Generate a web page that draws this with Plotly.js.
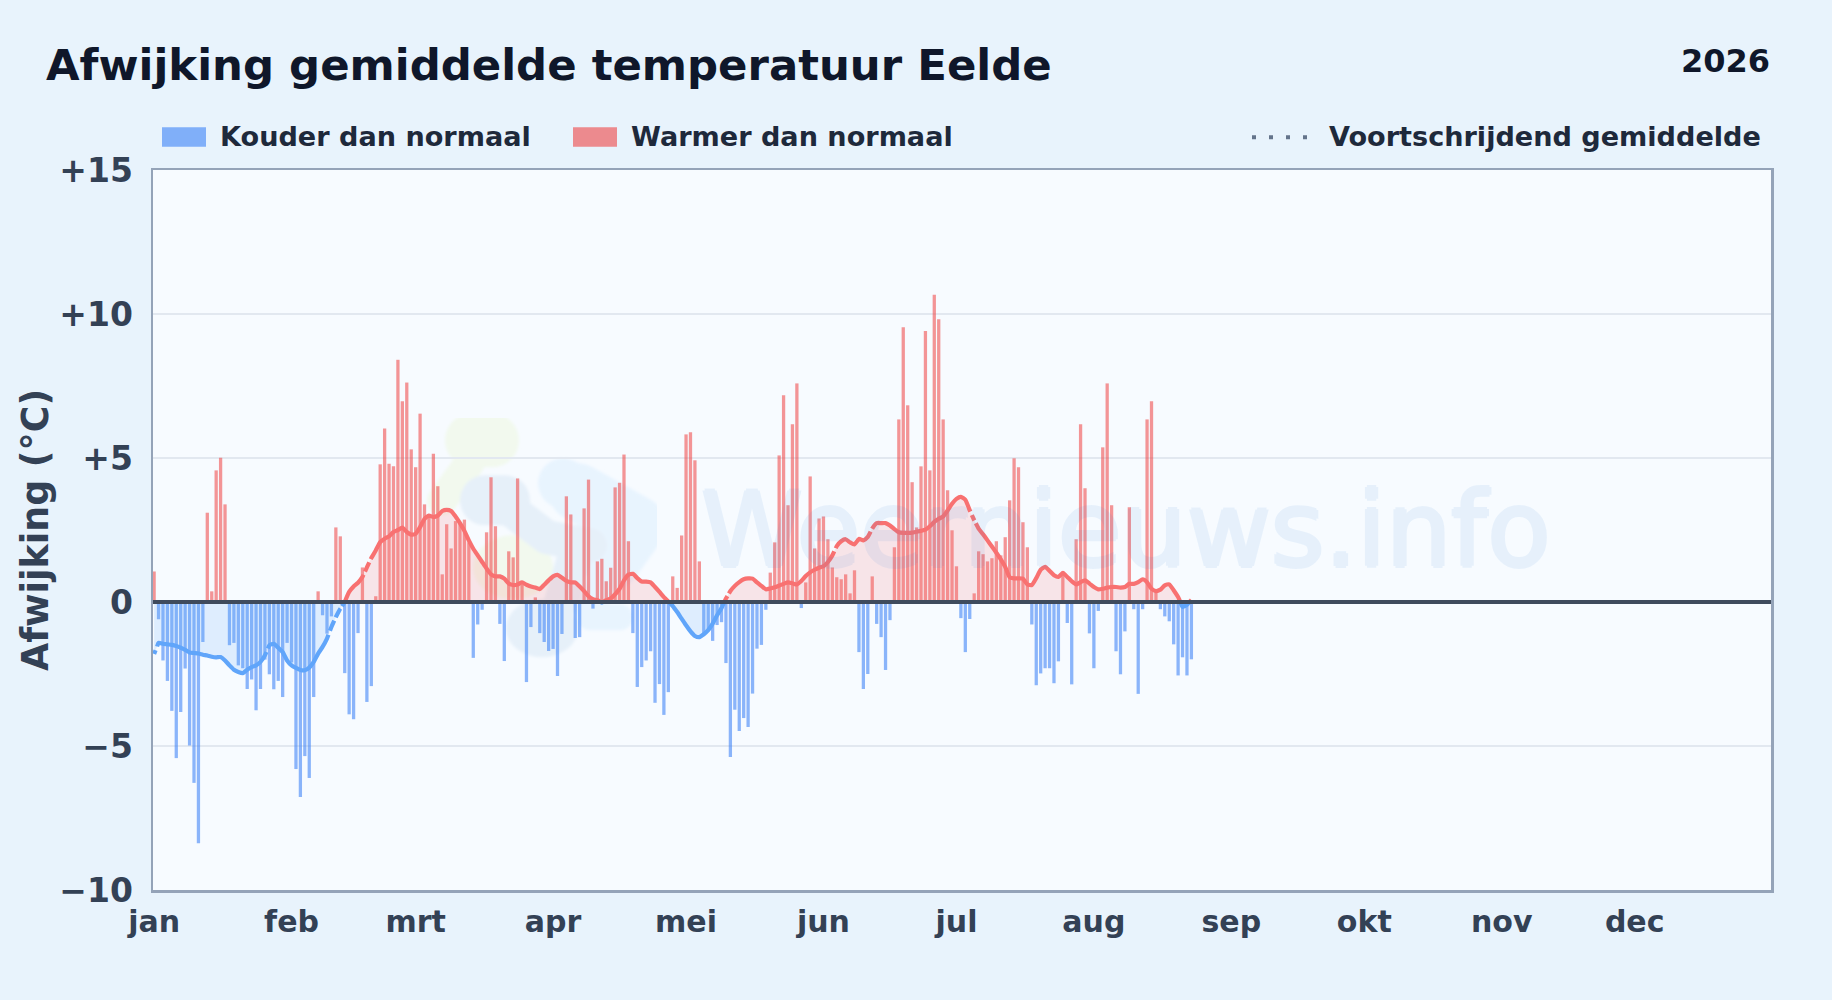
<!DOCTYPE html>
<html><head><meta charset="utf-8">
<script src="https://cdn.plot.ly/plotly-3.0.1.min.js"></script>
<style>html,body{margin:0;padding:0;background:#e8f3fc}
#chart .bars path{shape-rendering:geometricPrecision !important}</style></head>
<body><div id="chart" style="width:1832px;height:1000px"></div>
<script>
const titleText = "Afwijking gemiddelde temperatuur Eelde";
const yearText = "2026";
const yAxisTitle = "Afwijking (°C)";
const watermarkText = "Weernieuws.info";
const coldLabel = "Kouder dan normaal";
const warmLabel = "Warmer dan normaal";
const averageLabel = "Voortschrijdend gemiddelde";
const monthLabels = ["jan","feb","mrt","apr","mei","jun","jul","aug","sep","okt","nov","dec"];
const monthStarts = [0,31,59,90,120,151,181,212,243,273,304,334];
const yTickVals = [15,10,5,0,-5,-10];
const yTickText = ["+15","+10","+5","0","−5","−10"];

// Daily deviation from normal, Jan 1 onward
const deviation = [
 1.06,-0.6,-2.03,-2.74,-3.78,-5.42,-3.82,-2.31,-4.98,-6.28,-8.38,-1.39,3.1,0.37,4.57,5.01,3.39,
 -1.5,-1.42,-2.2,-2.3,-3.02,-2.69,-3.76,-3.02,-2.0,-2.51,-3.03,-2.74,-3.3,-1.42,-2.1,-5.8,-6.77,-5.35,-6.11,-3.3,
 0.37,-0.46,-1.1,-0.5,2.59,2.28,-2.47,-3.9,-4.07,-1.08,1.2,-3.47,-2.92,0.2,4.78,6.02,4.8,4.71,8.41,6.97,7.62,5.3,4.68,6.54,3.39,3.05,
 5.15,4.02,0.96,2.7,1.86,2.81,2.74,2.86,2.07,-1.94,-0.78,-0.27,2.42,4.33,2.63,-0.76,-2.05,1.76,1.55,4.29,0.6,-2.78,-0.87,0.16,-1.08,-1.39,-1.7,
 -1.63,-2.57,-1.11,3.67,3.04,-1.25,-1.22,3.25,4.25,-0.23,1.41,1.5,0.72,1.19,3.98,4.14,5.12,2.11,-1.08,-2.95,-2.26,-2.03,-1.71,-3.5,-2.85,-3.92,-3.13,
 0.89,0.49,2.31,5.82,5.89,4.92,1.41,-1.1,-1.0,-1.35,-0.8,-0.7,-2.12,-5.38,-3.74,-4.48,-4.03,-4.34,-3.18,-1.62,-1.49,-0.27,1.02,2.07,5.09,7.18,3.36,6.17,7.59,
 -0.21,0.68,4.36,1.86,2.9,2.97,2.18,1.2,0.86,0.79,0.96,0.3,1.1,-1.74,-3.02,-2.5,0.89,-0.76,-1.22,-2.36,-0.63,1.9,6.34,9.54,6.83,4.16,2.59,4.71,9.41,4.57,10.67,9.82,6.34,3.88,2.49,1.24,
 -0.56,-1.74,-0.59,0.3,1.76,1.66,1.41,1.52,2.11,1.62,2.25,3.53,4.99,4.68,2.77,1.9,-0.78,-2.89,-2.48,-2.3,-2.3,-2.82,-2.06,1.06,-0.73,-2.86,2.18,6.17,3.95,-1.09,-2.3,-0.31,5.37,7.59,3.36,
 -1.71,-2.51,-1.02,3.29,-0.25,-3.19,-0.25,6.34,6.97,0.4,-0.25,-0.5,-0.67,-1.47,-2.55,-1.92,-2.55,-1.99
];

// Running average, same days
const runningAverage = [
 -1.8,-1.42,-1.45,-1.47,-1.49,-1.53,-1.59,-1.66,-1.75,-1.77,-1.79,-1.83,-1.86,-1.9,-1.92,-1.91,-2.03,-2.2,-2.35,-2.43,-2.47,-2.35,-2.26,-2.2,-2.08,-1.85,-1.5,-1.45,-1.59,-1.74,-2.03,-2.2,-2.29,-2.36,-2.37,-2.28,-2.08,-1.79,-1.56,-1.27,-0.87,-0.52,-0.23,0,
 0.35,0.54,0.67,0.87,1.2,1.53,1.79,2.08,2.2,2.28,2.43,2.5,2.58,2.43,2.34,2.37,2.6,2.89,3.0,2.95,3.0,3.16,3.2,3.16,2.97,2.74,2.47,2.14,1.85,1.62,1.39,1.16,0.96,0.89,0.89,0.81,0.64,0.59,0.61,0.68,0.6,0.54,0.5,0.45,0.6,0.75,
 0.89,0.94,0.84,0.73,0.68,0.68,0.54,0.38,0.2,0.1,0.06,-0.02,0.06,0.12,0.27,0.46,0.75,0.95,0.98,0.83,0.71,0.71,0.68,0.52,0.35,0.17,0.02,-0.14,-0.35,-0.58,-0.81,-1.02,-1.18,-1.22,-1.12,-0.98,-0.75,-0.46,-0.21,0.12,0.38,0.56,0.69,0.79,0.82,0.81,0.68,0.56,0.44,0.47,0.51,0.57,0.63,0.68,0.65,0.61,
 0.73,0.9,1.03,1.12,1.19,1.24,1.39,1.62,1.94,2.11,2.18,2.07,2.0,2.19,2.14,2.26,2.55,2.74,2.74,2.74,2.66,2.53,2.42,2.4,2.4,2.41,2.44,2.47,2.51,2.63,2.78,2.89,2.97,3.18,3.41,3.58,3.65,3.55,3.18,2.84,2.55,2.35,2.14,1.93,1.71,1.48,1.22,0.86,0.82,0.82,0.81,0.61,0.59,0.83,1.12,1.22,1.08,0.93,0.87,1.01,0.87,0.72,0.61,0.69,0.75,0.64,0.52,0.44,0.46,0.5,0.52,
 0.52,0.5,0.52,0.63,0.63,0.69,0.79,0.69,0.46,0.38,0.43,0.58,0.61,0.41,0.17,-0.17,-0.1,0.07
];
// Places where the drawn average line shows a small break
const lineBreaks = [0.5,25.5,39.5,40.8,42.2,47.4,48.7,129.5,153.6,161.8,184.3,185.2];

const days = deviation.map((_, i) => i);
const warmDays = days.filter(i => deviation[i] >= 0);
const coldDays = days.filter(i => deviation[i] < 0);

// Split the average at zero so each part takes its own colour
function splitAverage() {
  const warm = {x:[],y:[],fx:[],fy:[]}, cold = {x:[],y:[],fx:[],fy:[]};
  const push = (o,x,y) => {o.x.push(x);o.y.push(y);o.fx.push(x);o.fy.push(y);};
  const lineOnly = (o,x,y) => {o.x.push(x);o.y.push(y);};
  const fillGap = o => {o.fx.push(null);o.fy.push(null);};
  const lerp = (i,x) => runningAverage[i]+(runningAverage[i+1]-runningAverage[i])*(x-i);
  for (let i=0;i<runningAverage.length;i++){
    const v = runningAverage[i];
    push(v>=0?warm:cold,i,v);
    if (i===runningAverage.length-1) break;
    const n = runningAverage[i+1];
    const cur = v>=0?warm:cold;
    lineBreaks.filter(g=>g>i&&g<i+1).forEach(g=>{
      lineOnly(cur,g-0.17,lerp(i,g-0.17));lineOnly(cur,null,null);lineOnly(cur,g+0.17,lerp(i,g+0.17));
    });
    if ((v>=0)!==(n>=0)){
      const xc = i + v/(v-n);
      push(warm,xc,0);push(cold,xc,0);
      cur.x.push(null);cur.y.push(null);fillGap(cur);
    }
  }
  return {warm,cold};
}
const parts = splitAverage();

const L=153, T=169.7, W=1618, H=720;
const px = x => (x-L)/W;
const py = y => (T+H-y)/H;
const sans = "'DejaVu Sans', sans-serif";
const note = (text,x,y,size,color,anchor,extra) => Object.assign({
  text,xref:'paper',yref:'paper',x:px(x),y:py(y),xanchor:anchor,yanchor:'middle',showarrow:false,
  borderpad:0,font:{family:sans,size,color,weight:700}},extra||{});

// Pale logo behind the plot, in page pixels
const logo = `<svg xmlns="http://www.w3.org/2000/svg" width="${W}" height="${H}" viewBox="${L} ${T} ${W} ${H}">
<defs><filter id="b"><feGaussianBlur stdDeviation="1.5"/></filter></defs>
<g filter="url(#b)" fill="none" stroke-linecap="round" stroke-linejoin="round">
<path d="M472 440L492 440" stroke="#f2f9ee" stroke-width="54"/>
<path d="M470 462L442 500" stroke="#f2f9ee" stroke-width="30"/>
<ellipse cx="513" cy="567" rx="40" ry="32" fill="#f2f9ee"/>
<path d="M563 483L578 492" stroke="#e8f4fe" stroke-width="50"/>
<path d="M578 492L637 525L612 560" stroke="#e8f4fe" stroke-width="58"/>
<path d="M590 617L620 617" stroke="#e8f4fe" stroke-width="26"/>
<path d="M612 560L590 610" stroke="#e8f4fe" stroke-width="30"/>
<path d="M485 500L505 500" stroke="#e6f0f9" stroke-width="50"/>
<path d="M505 505L547 537L590 545" stroke="#e6f0f9" stroke-width="34"/>
<path d="M575 555L560 605" stroke="#e6f0f9" stroke-width="34"/>
<ellipse cx="542" cy="628" rx="36" ry="29" fill="#e6f0f9"/>
</g></svg>`;

const traces = [
  {type:'bar',x:coldDays,y:coldDays.map(i=>deviation[i]),width:0.74,marker:{color:'rgba(59,130,246,0.58)',line:{width:0}},hoverinfo:'skip',showlegend:false},
  {type:'bar',x:warmDays,y:warmDays.map(i=>deviation[i]),width:0.74,marker:{color:'rgba(239,68,68,0.56)',line:{width:0}},hoverinfo:'skip',showlegend:false},
  {type:'scatter',mode:'none',x:parts.cold.fx,y:parts.cold.fy,fill:'tozeroy',fillcolor:'rgba(96,165,250,0.16)',hoverinfo:'skip',showlegend:false},
  {type:'scatter',mode:'none',x:parts.warm.fx,y:parts.warm.fy,fill:'tozeroy',fillcolor:'rgba(248,113,113,0.16)',hoverinfo:'skip',showlegend:false},
  {type:'scatter',mode:'lines',x:parts.cold.x,y:parts.cold.y,line:{color:'#60a5fa',width:4.2,shape:'spline',smoothing:0.5},hoverinfo:'skip',showlegend:false},
  {type:'scatter',mode:'lines',x:parts.warm.x,y:parts.warm.y,line:{color:'#f87171',width:4.2,shape:'spline',smoothing:0.5},hoverinfo:'skip',showlegend:false}
];

const legendBoxes = [
  {x0:162,x1:206,color:'rgba(59,130,246,0.6)'},
  {x0:573,x1:617,color:'rgba(239,68,68,0.6)'}
];

const wmBlue = '#2f7fd6';
const layout = {
  width:1832,height:1000,autosize:false,
  margin:{l:L,t:T,r:1832-L-W,b:1000-T-H,pad:0},
  paper_bgcolor:'#e8f3fc',plot_bgcolor:'#f7fbff',
  font:{family:sans},
  barmode:'overlay',bargap:0,showlegend:false,
  title:{text:titleText,x:46/1832,xanchor:'left',y:1-65/1000,yanchor:'middle',pad:{l:0,t:0,b:0,r:0},
    font:{family:sans,size:43.4,color:'#0f172a',weight:700}},
  xaxis:{range:[-0.25,364.75],tickmode:'array',tickvals:monthStarts,ticktext:monthLabels,
    showgrid:false,zeroline:false,ticks:'',ticklen:0,ticklabelstandoff:3,
    tickfont:{family:sans,size:30,color:'#334155',weight:700},
    showline:true,mirror:true,linecolor:'#94a3b8',linewidth:2.5},
  yaxis:{range:[-10,15],tickmode:'array',tickvals:yTickVals,ticktext:yTickText,
    showgrid:true,gridcolor:'#e2e8f0',gridwidth:1.6,zeroline:false,ticks:'',ticklen:0,ticklabelstandoff:11,
    tickfont:{family:sans,size:33,color:'#334155',weight:700},
    title:{text:yAxisTitle,standoff:0,font:{family:sans,size:36.4,color:'#334155',weight:700}},
    showline:true,mirror:true,linecolor:'#94a3b8',linewidth:2.5},
  images:[{source:'data:image/svg+xml;charset=utf-8,'+encodeURIComponent(logo),xref:'paper',yref:'paper',
    x:0,y:1,sizex:1,sizey:1,xanchor:'left',yanchor:'top',sizing:'stretch',layer:'below'}],
  shapes:[
    {type:'line',xref:'paper',x0:0,x1:1,yref:'y',y0:0,y1:0,line:{color:'#3f4b5d',width:4},layer:'above'},
    ...legendBoxes.map(b=>({type:'rect',xref:'paper',yref:'paper',x0:px(b.x0),x1:px(b.x1),y0:py(146.5),y1:py(127),
      fillcolor:b.color,line:{width:0},layer:'above'})),
    {type:'line',xref:'paper',yref:'paper',x0:px(1252),x1:px(1307),y0:py(137),y1:py(137),
      line:{color:'#64748b',width:4,dash:'4px 13px'},layer:'above'}
  ],
  annotations:[
    note(yearText,1771,61,32,'#0f172a','right'),
    note(coldLabel,218.5,136.5,27.1,'#1e293b','left'),
    note(warmLabel,629.5,136.5,27.1,'#1e293b','left'),
    note(averageLabel,1328,136.5,27.1,'#1e293b','left'),
    {text:watermarkText,xref:'paper',yref:'paper',x:px(1125),y:py(530),xanchor:'center',yanchor:'middle',showarrow:false,opacity:0.08,
     font:{family:sans,size:103,color:wmBlue,weight:400,
       shadow:`2px 0 0 ${wmBlue}, -2px 0 0 ${wmBlue}, 0 2px 0 ${wmBlue}, 0 -2px 0 ${wmBlue}`}}
  ]
};
Plotly.newPlot('chart',traces,layout,{displayModeBar:false,staticPlot:true});
</script></body></html>
